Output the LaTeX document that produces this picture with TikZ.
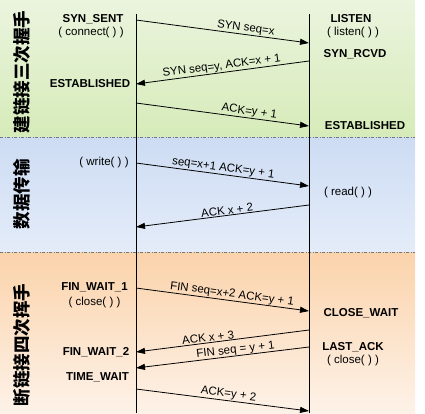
\documentclass[tikz,border=0pt]{standalone}
\usepackage{fontspec}
\setmainfont{Liberation Sans}
\newfontfamily\cjk{Noto Sans CJK SC}
\usetikzlibrary{arrows.meta}
\definecolor{gtop}{HTML}{EBF4DE}
\definecolor{gbot}{HTML}{D6EBB9}
\definecolor{btop}{HTML}{CDDCF3}
\definecolor{bbot}{HTML}{E4ECF9}
\definecolor{otop}{HTML}{FBD3AB}
\definecolor{obot}{HTML}{FDF2E8}
\definecolor{sepcol}{HTML}{707880}
\tikzset{
  lbl/.style={inner sep=0pt, font=\fontsize{11.5}{12}\selectfont},
  state/.style={inner sep=0pt, font=\fontsize{11.5}{12}\selectfont\bfseries},
  phase/.style={inner sep=0pt, rotate=90, font=\fontsize{17.5}{18}\selectfont\cjk\bfseries},
  msg/.style={draw=black, line width=0.8pt, -{Triangle[length=9pt,width=6pt]}},
  msglbl/.style={sloped, above, inner sep=0.6pt, font=\fontsize{11.5}{12}\selectfont},
  sep/.style={draw=sepcol, line width=1pt, dash pattern=on 3pt off 1.5pt on 1pt off 1.5pt},
  life/.style={draw=black, line width=0.8pt}
}
\begin{document}
\begin{tikzpicture}[x=1pt,y=-1pt]
\useasboundingbox (0,0) rectangle (425,413);
% bands
\fill[top color=gtop, bottom color=gbot] (0,0) rectangle (415,137);
\fill[top color=btop, bottom color=bbot] (0,137) rectangle (415,252);
\fill[top color=otop, bottom color=obot] (0,252) rectangle (415,413);
\draw[sep] (0,137) -- (415,137);
\draw[sep] (0,252) -- (415,252);
% lifelines
\coordinate (cTop) at (136,14);
\coordinate (cBot) at (136,413);
\coordinate (sTop) at (309,14);
\coordinate (sBot) at (309,413);
\draw[life] (cTop) -- (cBot);
\draw[life] (sTop) -- (sBot);
% phase labels
\node[phase] (p1) at (22,72) {建链接三次握手};
\node[phase] (p2) at (22,194) {数据传输};
\node[phase] (p3) at (22,345) {断链接四次挥手};
% client states
\node[state] (synsent) at (93,19) {SYN\_SENT};
\node[lbl] (connect) at (91,33) {( connect( ) )};
\node[state] (estc) at (90,84) {ESTABLISHED};
\node[lbl] (write) at (104,163) {( write( ) )};
\node[state] (fw1) at (94.5,287) {FIN\_WAIT\_1};
\node[lbl] (closec) at (94.5,303) {( close( ) )};
\node[state] (fw2) at (96,352) {FIN\_WAIT\_2};
\node[state] (tw) at (97.5,377) {TIME\_WAIT};
% server states
\node[state] (listen) at (351,19) {LISTEN};
\node[lbl] (listenf) at (353,33) {( listen( ) )};
\node[state] (synrcvd) at (355,54) {SYN\_RCVD};
\node[state] (ests) at (365,126) {ESTABLISHED};
\node[lbl] (read) at (348,193) {( read( ) )};
\node[state] (cw) at (361,313) {CLOSE\_WAIT};
\node[state] (la) at (353,347) {LAST\_ACK};
\node[lbl] (closes) at (353,361) {( close( ) )};
% message endpoints
\coordinate (a1) at (136,20);  \coordinate (b1) at (309,43);
\coordinate (a2) at (309,61);  \coordinate (b2) at (136,84);
\coordinate (a3) at (136,103); \coordinate (b3) at (309,126);
\coordinate (a4) at (136,163); \coordinate (b4) at (309,186);
\coordinate (a5) at (309,205); \coordinate (b5) at (136,227);
\coordinate (a6) at (136,288); \coordinate (b6) at (309,311);
\coordinate (a7) at (309,330); \coordinate (b7) at (136,352);
\coordinate (a8) at (309,347); \coordinate (b8) at (136,368);
\coordinate (a9) at (136,389); \coordinate (b9) at (309,411);
% messages
\draw[msg] (a1) -- node[msglbl, pos=0.63] {SYN seq=x} (b1);
\draw[msg] (a2) -- node[msglbl, pos=0.5] {SYN seq=y, ACK=x + 1} (b2);
\draw[msg] (a3) -- node[msglbl, pos=0.65] {ACK=y + 1} (b3);
\draw[msg] (a4) -- node[msglbl, pos=0.5] {seq=x+1 ACK=y + 1} (b4);
\draw[msg] (a5) -- node[msglbl, pos=0.47] {ACK x + 2} (b5);
\draw[msg] (a6) -- node[msglbl, pos=0.55] {FIN seq=x+2 ACK=y + 1} (b6);
\draw[msg] (a7) -- node[msglbl, pos=0.58] {ACK x + 3} (b7);
\draw[msg] (a8) -- node[msglbl, pos=0.42, inner sep=0pt] {FIN seq = y + 1} (b8);
\draw[msg] (a9) -- node[msglbl, pos=0.53] {ACK=y + 2} (b9);
\end{tikzpicture}
\end{document}
